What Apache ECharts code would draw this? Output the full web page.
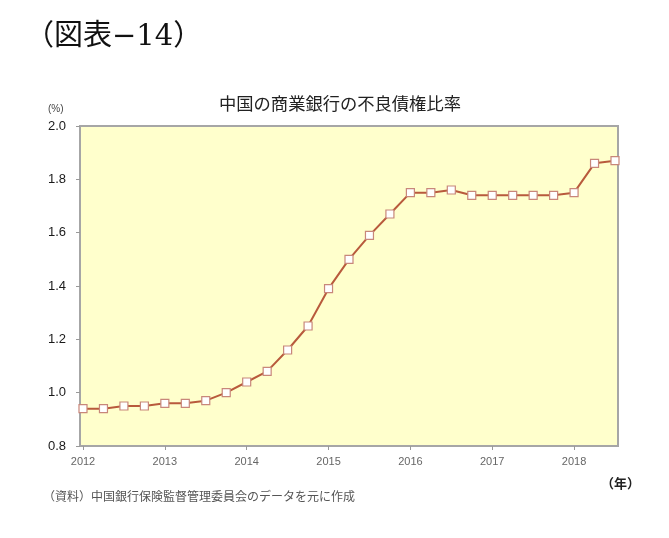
<!DOCTYPE html>
<html>
<head>
<meta charset="utf-8">
<script src="https://cdn.jsdelivr.net/npm/echarts@6/dist/echarts.min.js"></script>
<style>html,body{margin:0;padding:0;background:#fff;}#c{width:669px;height:538px;}</style>
</head>
<body>
<div id="c"></div>
<script>
const quarters = ['2012Q1','2012Q2','2012Q3','2012Q4','2013Q1','2013Q2','2013Q3','2013Q4','2014Q1','2014Q2','2014Q3','2014Q4','2015Q1','2015Q2','2015Q3','2015Q4','2016Q1','2016Q2','2016Q3','2016Q4','2017Q1','2017Q2','2017Q3','2017Q4','2018Q1','2018Q2','2018Q3'];
const npl = [0.94,0.94,0.95,0.95,0.96,0.96,0.97,1.00,1.04,1.08,1.16,1.25,1.39,1.50,1.59,1.67,1.75,1.75,1.76,1.74,1.74,1.74,1.74,1.74,1.75,1.86,1.87];
const yTicks = [0.8,1.0,1.2,1.4,1.6,1.8,2.0];
const figLabel = '（図表−14）';
const chartTitle = '中国の商業銀行の不良債権比率';
const unitY = '(%)';
const unitX = '（年）';
const sourceNote = '（資料）中国銀行保険監督管理委員会のデータを元に作成';

const chart = echarts.init(document.getElementById('c'), null, {renderer:'canvas'});
const sans = 'Arial, "Liberation Sans", "Noto Sans CJK JP", sans-serif';
chart.setOption({
  animation:false,
  backgroundColor:'#ffffff',
  title:{text:chartTitle,left:214,top:90,textStyle:{fontFamily:'"Noto Sans CJK JP", sans-serif',fontSize:17.3,fontWeight:'normal',color:'#222'}},
  grid:[
    {left:80,right:51,top:126,bottom:92,show:true,backgroundColor:'#ffffcc',borderColor:'#a6a6a6',borderWidth:2},
    {left:83,right:54,top:126,bottom:92}
  ],
  xAxis:[
    {gridIndex:0,type:'value',show:false,min:0,max:1},
    {gridIndex:1,type:'category',data:quarters,boundaryGap:false,
      axisLine:{show:false},
      axisTick:{show:true,interval:3,length:4,inside:false,lineStyle:{color:'#999'}},
      axisLabel:{interval:3,margin:10,color:'#666',fontSize:11,fontFamily:sans,formatter:(v)=>v.slice(0,4)}}
  ],
  yAxis:[
    {gridIndex:0,type:'value',show:false,min:0,max:1},
    {gridIndex:1,type:'value',min:yTicks[0],max:yTicks[yTicks.length-1],interval:0.2,offset:3,
      axisLine:{show:true,lineStyle:{color:'#a6a6a6',width:2}},
      axisTick:{show:true,length:4,lineStyle:{color:'#999'}},
      splitLine:{show:false},
      axisLabel:{margin:14,color:'#1a1a1a',fontSize:13,fontFamily:sans,formatter:(v)=>v.toFixed(1)}}
  ],
  series:[{
    type:'line',xAxisIndex:1,yAxisIndex:1,data:npl,
    symbol:'rect',symbolSize:8,showAllSymbol:true,
    lineStyle:{color:'#b85a3c',width:2},
    itemStyle:{color:'#ffffff',borderColor:'#c8877a',borderWidth:1.2}
  }],
  graphic:[
    {type:'text',left:25,top:23,style:{text:figLabel,font:'29px "DejaVu Serif","Noto Sans CJK JP", serif',fill:'#111'}},
    {type:'text',left:48,top:104,style:{text:unitY,font:'10px '+sans,fill:'#444'}},
    {type:'text',left:601,top:477,style:{text:unitX,font:'bold 13px "Noto Sans CJK JP", sans-serif',fill:'#222'}},
    {type:'text',left:43,top:490,style:{text:sourceNote,font:'12px "Noto Sans CJK JP", sans-serif',fill:'#555'}}
  ]
});
</script>
</body>
</html>
